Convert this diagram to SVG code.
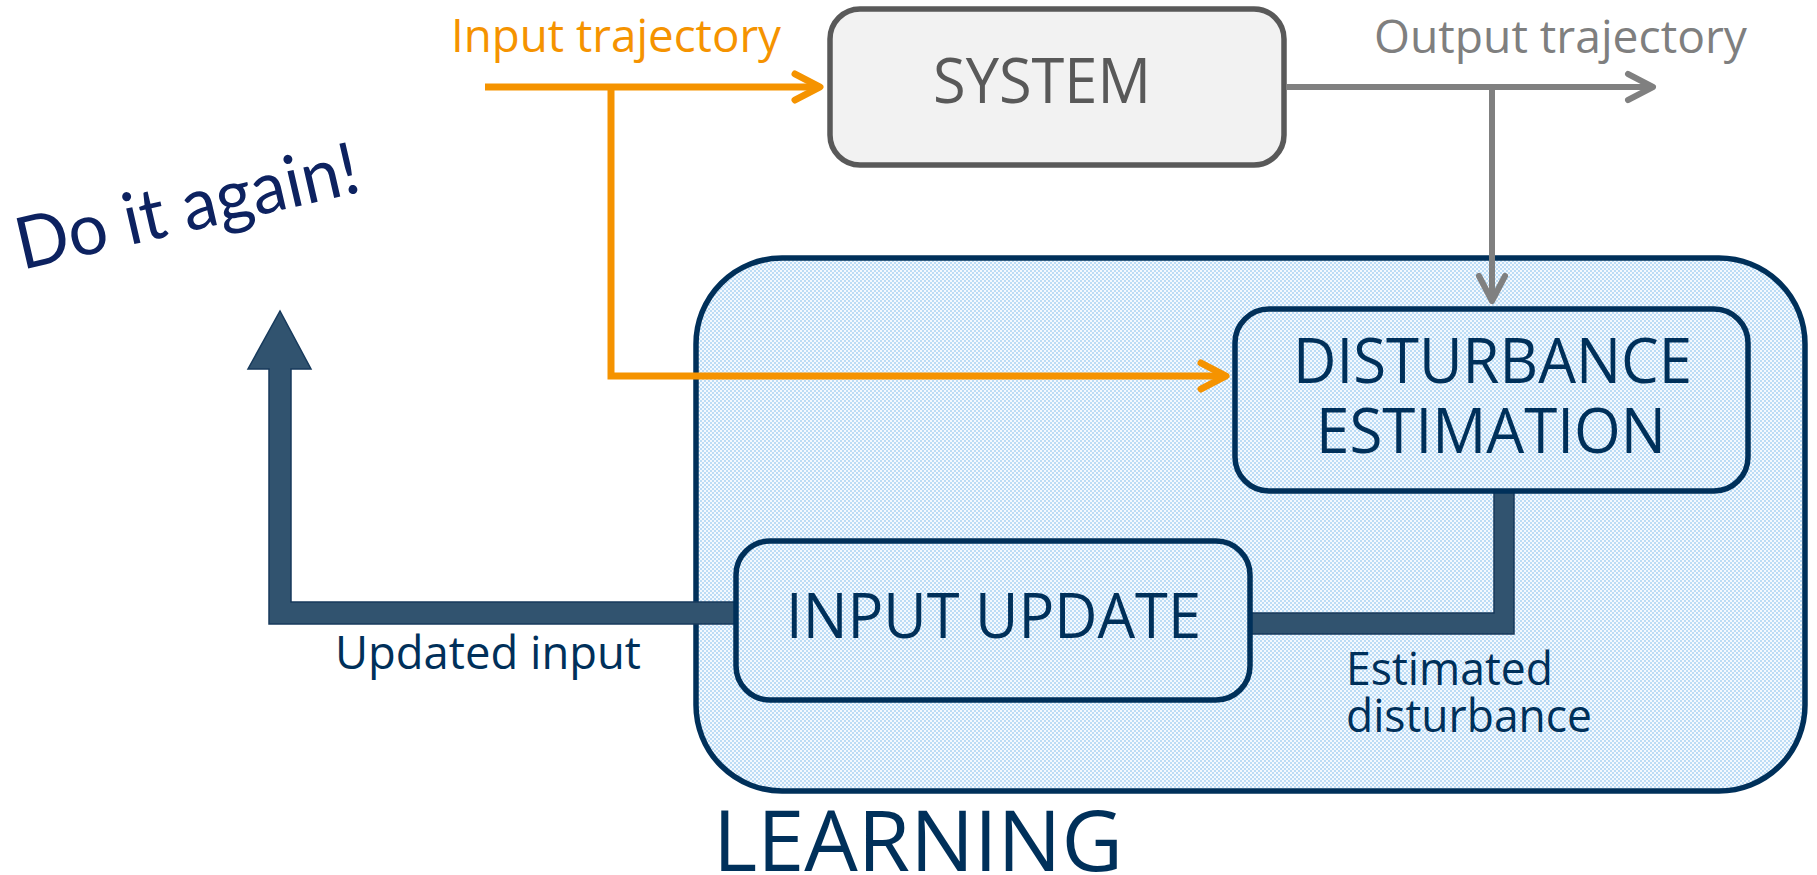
<svg xmlns="http://www.w3.org/2000/svg" width="1817" height="875" viewBox="0 0 1817 875">
  <defs>
    <!-- dotted light-blue texture of the learning area -->
    <pattern id="dots" width="4" height="4" patternUnits="userSpaceOnUse">
      <rect width="4" height="4" fill="#f4f9fe"/>
      <rect width="2" height="2" fill="#bcdcf5"/>
      <rect x="2" y="2" width="2" height="2" fill="#bcdcf5"/>
    </pattern>
    <marker id="chevOrange" markerUnits="userSpaceOnUse" viewBox="-32 -18 36 36" refX="0" refY="0" markerWidth="36" markerHeight="36" orient="auto">
      <path d="M-25,-13 L0,0 L-25,13" fill="none" stroke="#f59300" stroke-width="7" stroke-linecap="round" stroke-linejoin="round"/>
    </marker>
    <marker id="chevGray" markerUnits="userSpaceOnUse" viewBox="-32 -18 36 36" refX="0" refY="0" markerWidth="36" markerHeight="36" orient="auto">
      <path d="M-25,-13 L0,0 L-25,13" fill="none" stroke="#808080" stroke-width="6" stroke-linecap="round" stroke-linejoin="round"/>
    </marker>
  </defs>
  <style>
    .txt { font-family: "Open Sans", "Liberation Sans", sans-serif; }
    .navy { fill: #00305a; }
    .box { stroke: #00305a; stroke-width: 5.5; fill: url(#dots); }
    .bar { fill: #31536f; stroke: #173a5c; stroke-width: 1.5; }
    .orange { fill: none; stroke: #f59300; stroke-width: 7; }
    .gray { fill: none; stroke: #808080; stroke-width: 6; }
  </style>

  <rect width="1817" height="875" fill="#ffffff"/>

  <!-- LEARNING container -->
  <g id="learning">
    <rect class="box" x="696" y="258" width="1109" height="533" rx="86" ry="86"/>
    <text class="txt navy" x="713" y="871" font-size="84" textLength="410" lengthAdjust="spacingAndGlyphs">LEARNING</text>
  </g>

  <!-- connectors -->
  <g id="connectors">
    <!-- input trajectory -->
    <path class="orange" d="M485,87 H820" marker-end="url(#chevOrange)"/>
    <path class="orange" d="M611,87 V376 H1226" marker-end="url(#chevOrange)"/>
    <!-- output trajectory -->
    <path class="gray" d="M1287,87 H1653" marker-end="url(#chevGray)"/>
    <path class="gray" d="M1492,87 V301" marker-end="url(#chevGray)"/>
    <!-- estimated disturbance -->
    <path class="bar" d="M1250,613 H1494 V490 H1514 V634 H1250 Z"/>
    <!-- updated input, fed back -->
    <path class="bar" d="M738,602 H291 V369 H311 L280,311 L248,369 H269 V624 H738 Z"/>
  </g>

  <!-- SYSTEM -->
  <g id="system">
    <rect x="830" y="9" width="454" height="156" rx="30" ry="30" fill="#f2f2f2" stroke="#595959" stroke-width="5.5"/>
    <text class="txt" x="933" y="103" font-size="62" fill="#595959" textLength="218" lengthAdjust="spacingAndGlyphs">SYSTEM</text>
  </g>

  <!-- DISTURBANCE ESTIMATION -->
  <g id="disturbance-estimation">
    <rect class="box" x="1235" y="309" width="513" height="182" rx="34" ry="34"/>
    <text class="txt navy" x="1293" y="383" font-size="63" textLength="399" lengthAdjust="spacingAndGlyphs">DISTURBANCE</text>
    <text class="txt navy" x="1316" y="453" font-size="63" textLength="350" lengthAdjust="spacingAndGlyphs">ESTIMATION</text>
  </g>

  <!-- INPUT UPDATE -->
  <g id="input-update">
    <rect class="box" x="736" y="541" width="514" height="159" rx="34" ry="34"/>
    <text class="txt navy" x="786" y="638" font-size="63" textLength="415" lengthAdjust="spacingAndGlyphs">INPUT UPDATE</text>
  </g>

  <!-- labels -->
  <g id="labels">
    <text class="txt" x="451" y="52" font-size="46" fill="#f59300" textLength="330" lengthAdjust="spacingAndGlyphs">Input trajectory</text>
    <text class="txt" x="1374" y="53" font-size="46" fill="#7f7f7f" textLength="373" lengthAdjust="spacingAndGlyphs">Output trajectory</text>
    <text class="txt navy" x="335" y="669" font-size="46" textLength="306" lengthAdjust="spacingAndGlyphs">Updated input</text>
    <text class="txt navy" x="1346" y="685" font-size="46" textLength="207" lengthAdjust="spacingAndGlyphs">Estimated</text>
    <text class="txt navy" x="1346" y="732" font-size="46" textLength="246" lengthAdjust="spacingAndGlyphs">disturbance</text>
    <text font-family="Lato, 'Open Sans', sans-serif" font-size="72" fill="#0d2260" transform="translate(22,270) rotate(-13)" textLength="350" lengthAdjust="spacingAndGlyphs">Do it again!</text>
  </g>
</svg>
